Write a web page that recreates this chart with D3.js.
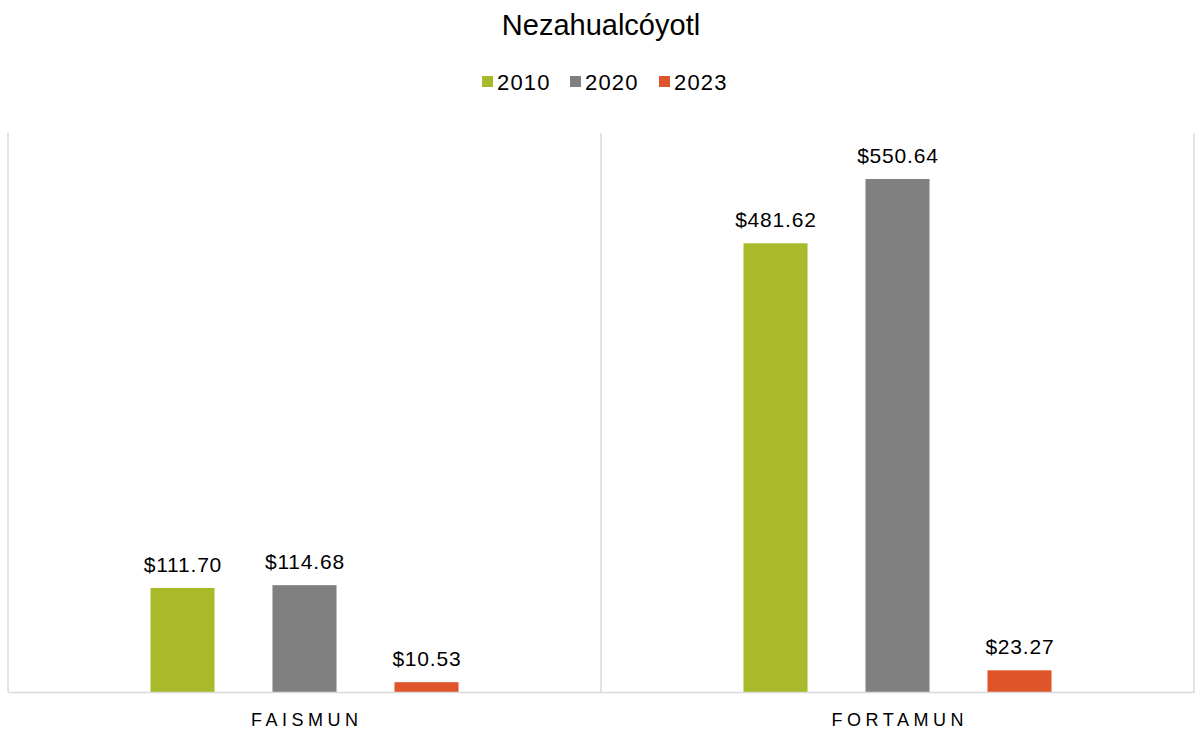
<!DOCTYPE html>
<html><head><meta charset="utf-8">
<script src="https://cdn.jsdelivr.net/npm/d3@7"></script>
<style>body{margin:0;background:#fff;font-family:"Liberation Sans",Arial,sans-serif;}</style>
</head><body><svg id="c" width="1195" height="730"></svg>
<script>
const categories = ["FAISMUN", "FORTAMUN"];
const seriesNames = ["2010", "2020", "2023"];
const values2010 = [111.70, 481.62];
const values2020 = [114.68, 550.64];
const values2023 = [10.53, 23.27];
const colors = ["#A8B92A", "#808080", "#E0542A"];
const series = [values2010, values2020, values2023];

const svg = d3.select("#c");
const pLeft = 8, pRight = 1194, pTop = 133, pBottom = 692;
const x0 = d3.scaleBand().domain(categories).range([pLeft, pRight]).padding(0);
const x1 = d3.scaleBand().domain(seriesNames).range([0, x0.bandwidth()]).paddingInner(0.475).paddingOuter(1.168);
const y = d3.scaleLinear().domain([0, 600]).range([pBottom, pTop]);

const grid = "#D9D9D9";
[pLeft, x0("FORTAMUN"), pRight].forEach(xx => {
  svg.append("line").attr("x1", xx).attr("x2", xx).attr("y1", pTop).attr("y2", pBottom).attr("stroke", grid).attr("stroke-width", 1.5);
});

categories.forEach((c, ci) => {
  seriesNames.forEach((s, si) => {
    const v = series[si][ci];
    const bx = x0(c) + x1(s);
    svg.append("rect").attr("x", bx).attr("y", y(v)).attr("width", x1.bandwidth()).attr("height", pBottom - y(v)).attr("fill", colors[si]);
    svg.append("text").attr("x", bx + x1.bandwidth() / 2 + 0.4).attr("y", y(v) - 16).attr("text-anchor", "middle")
      .attr("font-size", 21).attr("letter-spacing", "0.8px").attr("fill", "#000").text("$" + v.toFixed(2));
  });
});

const xAxis = svg.append("g").attr("transform", `translate(0,${pBottom})`).call(d3.axisBottom(x0).tickSize(0).tickPadding(21));
xAxis.select(".domain").attr("stroke", grid).attr("stroke-width", 1.5);
xAxis.selectAll("text").attr("font-size", 18).attr("font-family", "Liberation Sans, Arial, sans-serif")
  .attr("letter-spacing", "4.5px").attr("dx", "2.25px").attr("fill", "#000");

svg.append("text").attr("x", 601).attr("y", 35).attr("text-anchor", "middle").attr("font-size", 29).attr("fill", "#000").text("Nezahualcóyotl");

const legX = [482, 570, 659];
seriesNames.forEach((s, i) => {
  svg.append("rect").attr("x", legX[i]).attr("y", 76).attr("width", 11).attr("height", 11).attr("fill", colors[i]);
  svg.append("text").attr("x", legX[i] + 15).attr("y", 90).attr("font-size", 22).attr("letter-spacing", "1.2px").attr("fill", "#000").text(s);
});
</script></body></html>
